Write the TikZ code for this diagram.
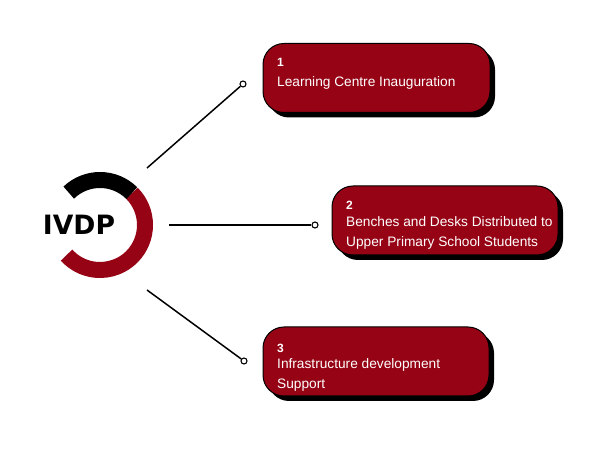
\documentclass[tikz,border=0pt]{standalone}
\usepackage{fontspec}
\setmainfont{Liberation Sans}
\newfontfamily\logofont{DejaVu Sans}
\usetikzlibrary{shadows}
\definecolor{boxred}{RGB}{150,3,20}
\tikzset{
  itembox/.style={draw=black, line width=1pt, fill=boxred, rounded corners=21pt,
    minimum width=#1, minimum height=69pt, inner sep=0pt,
    drop shadow={shadow xshift=5pt, shadow yshift=-5pt, fill=black, opacity=1}},
  itembox/.default=226pt,
  numtxt/.style={anchor=base west, text=white, font=\fontsize{12}{14}\selectfont\bfseries, inner sep=0pt},
  bodytxt/.style={anchor=base west, text=white, font=\fontsize{13.7}{16}\selectfont, inner sep=0pt},
  endpt/.style={circle, draw=black, fill=white, line width=1.1pt, minimum size=6pt, inner sep=0pt},
  conn/.style={draw=black, line width=1.5pt},
  ringarc/.style={line width=16pt}
}
\begin{document}
\begin{tikzpicture}[x=1pt,y=1pt]
\useasboundingbox[fill=white] (0,0) rectangle (600,450);

% ring
\coordinate (c) at (100,225);
\draw[ringarc, boxred] (c) ++(45:45pt) arc[start angle=45, end angle=-138, radius=45pt];
\draw[ringarc, black] (c) ++(45:45pt) arc[start angle=45, end angle=134, radius=45pt];
\node[font=\logofont\fontsize{26.6}{30}\selectfont\bfseries, inner sep=0pt] (ivdp) at (79,225) {IVDP};

% boxes
\node[itembox=227pt] (b1) at (376.5,372) {};
\node[itembox=226pt] (b2) at (445,229.5) {};
\node[itembox=226pt] (b3) at (376,88.5) {};

\node[numtxt] (n1) at (277,383) {1};
\node[bodytxt] (t1) at (277,363) {Learning Centre Inauguration};

\node[numtxt] (n2) at (346,240) {2};
\node[bodytxt] (t2a) at (346,223) {Benches and Desks Distributed to};
\node[bodytxt] (t2b) at (346,203) {Upper Primary School Students};

\node[numtxt] (n3) at (277,97) {3};
\node[bodytxt] (t3a) at (277,81) {Infrastructure development};
\node[bodytxt] (t3b) at (277,61) {Support};

% connectors
\coordinate (s1) at (147,282);
\coordinate (s2) at (169,225);
\coordinate (s3) at (147,160);
\node[endpt] (e1) at (243,366) {};
\node[endpt] (e2) at (315,225) {};
\node[endpt] (e3) at (244,89) {};
\draw[conn] (s1) -- (e1);
\draw[conn] (s2) -- (e2);
\draw[conn] (s3) -- (e3);
\end{tikzpicture}
\end{document}
